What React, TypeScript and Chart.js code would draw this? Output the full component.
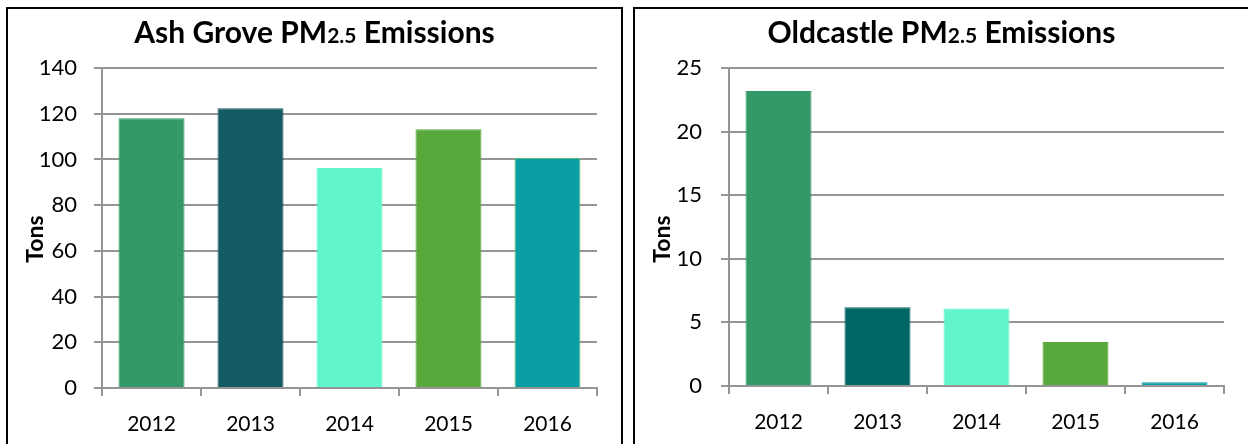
import React, { useEffect, useRef } from "react";
import { Chart, registerables } from "chart.js";

Chart.register(...registerables);

const years = ["2012", "2013", "2014", "2015", "2016"];
const ashGroveTons = [118.0, 122.4, 96.3, 113.2, 100.7];
const oldcastleTons = [23.2, 6.2, 6.1, 3.45, 0.3];

const ashGroveColors = ["#339966", "#135a64", "#61f5cb", "#59a83c", "#0a9ea5"];
const ashGroveBorders = ["#339966", "#135a64", "#61f5cb", "#59a83c", "#7cc46b"];
const oldcastleColors = ["#339966", "#006864", "#61f5cb", "#59a83c", "#0a9ea5"];

const ashGroveTitle = ["Ash Grove PM", "2.5", " Emissions"];
const oldcastleTitle = ["Oldcastle PM", "2.5", " Emissions"];
const axisTitle = "Tons";

const ashGroveMax = 140;
const ashGroveStep = 20;
const oldcastleMax = 25;
const oldcastleStep = 5;

const FONT = 'Lato, "Open Sans", sans-serif';
const GRID = "#959595";

const titlePlugin = {
  id: "splitTitle",
  afterDraw(chart: any, _args: any, opts: any) {
    const ctx = chart.ctx;
    const parts: string[] = opts.parts || [];
    const fonts = [`bold 30px ${FONT}`, `bold 21px ${FONT}`, `bold 30px ${FONT}`];
    ctx.save();
    let total = 0;
    const widths = parts.map((p, i) => {
      ctx.font = fonts[i];
      const w = ctx.measureText(p).width;
      total += w;
      return w;
    });
    let x = chart.width / 2 - total / 2;
    ctx.fillStyle = "#000";
    ctx.textBaseline = "alphabetic";
    ctx.textAlign = "left";
    parts.forEach((p, i) => {
      ctx.font = fonts[i];
      ctx.fillText(p, x, opts.baseline);
      x += widths[i];
    });
    // axis title
    ctx.font = `bold 23px ${FONT}`;
    ctx.translate(opts.axisX, opts.axisY);
    ctx.rotate(-Math.PI / 2);
    ctx.textAlign = "center";
    ctx.textBaseline = "middle";
    ctx.fillText(axisTitle, 0, 0);
    ctx.restore();
  },
};

function makeConfig(values: number[], colors: string[], borders: string[], max: number, step: number, title: string[], bottom: number, yPad: number): any {
  return {
    type: "bar",
    data: {
      labels: years,
      datasets: [
        {
          data: values,
          backgroundColor: colors,
          borderColor: borders,
          borderWidth: 1,
          barPercentage: 0.667,
          categoryPercentage: 1,
        },
      ],
    },
    plugins: [titlePlugin],
    options: {
      animation: false,
      responsive: false,
      maintainAspectRatio: false,
      layout: { padding: { top: 59, left: 0, right: 24, bottom: 0 } },
      plugins: {
        legend: { display: false },
        title: { display: false },
        tooltip: { enabled: false },
        splitTitle: { parts: title, baseline: 34, axisX: 28, axisY: 230 },
      },
      scales: {
        x: {
          offset: true,
          grid: {
            offset: true,
            drawOnChartArea: false,
            drawTicks: true,
            tickLength: 8,
            color: GRID,
            lineWidth: 2,
          },
          border: { display: true, color: GRID, width: 2 },
          ticks: { color: "#000", font: { family: FONT, size: 21 }, padding: 16, maxRotation: 0 },
          afterFit(scale: any) {
            scale.height = 435 - bottom;
            scale.paddingLeft = 0;
            scale.paddingRight = 0;
          },
        },
        y: {
          min: 0,
          max: max,
          ticks: { stepSize: step, color: "#000", font: { family: FONT, size: 22 }, padding: yPad },
          grid: { color: GRID, lineWidth: 2, tickLength: 8 },
          border: { display: true, color: GRID, width: 2 },
          afterFit(scale: any) {
            scale.width = 94;
            scale.paddingTop = 0;
            scale.paddingBottom = 0;
          },
        },
      },
    },
  };
}

function Panel(props: { cfg: any; left: number; rightBorder: boolean }) {
  const ref = useRef<HTMLCanvasElement>(null);
  useEffect(() => {
    if (!ref.current) return;
    const chart = new Chart(ref.current, props.cfg);
    return () => chart.destroy();
  }, []);
  return (
    <div
      style={{
        position: "absolute",
        left: props.left,
        top: 7,
        width: 613,
        height: 435,
        borderLeft: "2px solid #000",
        borderTop: "2px solid #000",
        borderRight: props.rightBorder ? "2px solid #000" : "none",
        background: "#fff",
        overflow: "hidden",
      }}
    >
      <canvas ref={ref} width={613} height={435} style={{ display: "block", width: 613, height: 435 }} />
    </div>
  );
}

export default function App() {
  const left = makeConfig(ashGroveTons, ashGroveColors, ashGroveBorders, ashGroveMax, ashGroveStep, ashGroveTitle, 379, 17);
  const right = makeConfig(oldcastleTons, oldcastleColors, oldcastleColors, oldcastleMax, oldcastleStep, oldcastleTitle, 377, 19);
  return (
    <div style={{ position: "absolute", left: 0, top: 0, width: 1248, height: 444, overflow: "hidden", background: "#fff" }}>
      <Panel cfg={left} left={6} rightBorder={true} />
      <Panel cfg={right} left={633} rightBorder={false} />
    </div>
  );
}
